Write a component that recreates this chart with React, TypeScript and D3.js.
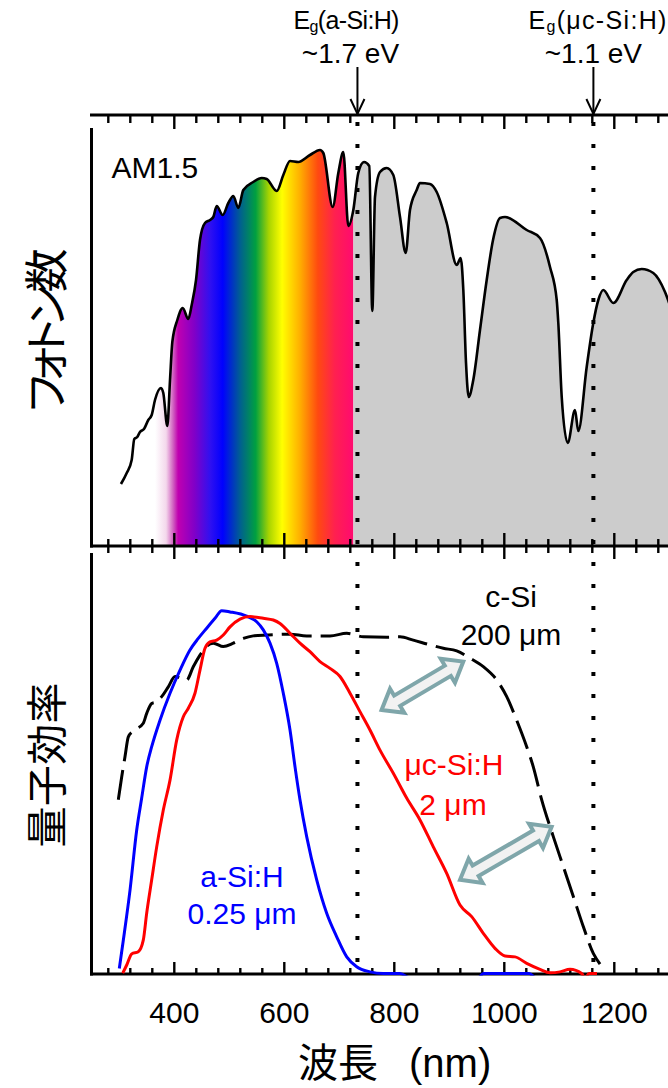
import React from 'react';
import * as d3 from 'd3';

const W = 668;
const H = 1088;

// AM1.5 photon spectrum (arbitrary units)
const am15Wavelength = [303,313.5,322.5,327.3,332.7,337.6,344.9,352.7,358.9,364.9,375.8,380,387.3,392.2,396.4,405.5,415.3,425.5,431.6,439.5,446.7,455.8,464.9,470.9,477.1,488,498.2,507.3,516.4,525.5,543.6,558.9,568,586.2,598.2,610.4,625.5,646.7,664.9,670.9,688,698.2,707.3,716.4,725.5,734.5,744.9,754.5,760,764.9,774,786.2,798.2,810.4,820.7,828.5,840.7,846.7,864.9,877.1,895.3,913.5,920.7,925.5,930.4,935.3,943.6,955.8,968,979.5,992.2,1001.3,1040.7,1064.9,1083.1,1095.3,1098.2,1104.4,1115.3,1128.5,1134.5,1149.8,1161.8,1170.9,1180,1198.2,1222.5,1234.5,1249.8,1270.9,1292.2,1301];
const am15Photons = [0.62,0.73,0.86,1.07,1.09,1.14,1.17,1.26,1.31,1.46,1.58,1.53,1.20,1.66,2.04,2.26,2.38,2.27,2.41,2.66,3.06,3.23,3.26,3.29,3.40,3.31,3.43,3.50,3.38,3.56,3.64,3.68,3.67,3.55,3.71,3.85,3.84,3.91,3.96,3.93,3.39,3.73,3.94,3.20,3.36,3.73,3.84,3.80,2.35,3.49,3.74,3.78,3.71,3.29,2.93,3.36,3.56,3.63,3.62,3.54,3.23,2.81,2.88,2.56,1.83,1.49,1.66,2.16,2.66,3.06,3.28,3.29,3.16,3.08,2.79,2.46,2.23,1.49,1.03,1.36,1.15,1.79,2.23,2.46,2.56,2.43,2.66,2.74,2.77,2.73,2.54,2.41];

// Quantum efficiency: a-Si:H 0.25 um
const aSiWavelength = [300,307.3,319.5,331.6,340.7,349.8,358.9,374,392.2,410.4,428.5,443.6,458.9,474,486.2,501.3,531.6,549.8,561.8,574,586.2,598.2,610.4,619.5,628.5,640.7,658.9,677.1,695.3,713.5,731.6,755.8,780,810,830,870,930,952,962,1045,1058,1080];
const aSiQE = [0.013,0.079,0.196,0.336,0.411,0.484,0.531,0.593,0.656,0.710,0.757,0.784,0.808,0.831,0.849,0.846,0.836,0.823,0.804,0.773,0.726,0.656,0.570,0.484,0.407,0.321,0.220,0.142,0.087,0.040,0.017,0.005,0.001,0.001,-0.01,-0.012,-0.012,-0.01,0.001,0.001,-0.01,-0.012];

// Quantum efficiency: uc-Si:H 2 um
const mcSiWavelength = [306.2,313.5,322.5,334.5,343.6,349.8,358.9,368,380,392.2,404.4,416.4,425.5,437.6,446.7,455.8,464.9,477.1,489.1,501.3,519.5,537.6,561.8,580,592.2,610.4,628.5,646.7,664.9,683.1,701.3,719.5,737.6,755.8,774,798.2,822.5,846.7,870.9,895.3,919.5,940.7,961.8,983.1,1001.3,1019.5,1040.7,1064.9,1083.1,1101.3,1119.5,1140.7,1147,1154,1168.5];
const mcSiQE = [0.002,0.021,0.047,0.052,0.079,0.142,0.220,0.297,0.383,0.453,0.547,0.601,0.621,0.656,0.710,0.761,0.776,0.780,0.792,0.811,0.829,0.835,0.831,0.827,0.819,0.796,0.773,0.753,0.730,0.714,0.695,0.656,0.613,0.570,0.523,0.469,0.411,0.360,0.297,0.235,0.161,0.134,0.095,0.060,0.042,0.040,0.025,0.011,0.003,0.005,0.011,0.001,-0.01,0.001,0.001];

// Quantum efficiency: c-Si 200 um
const cSiWavelength = [298.2,304.4,310.4,316.4,325.5,343.6,349.8,358.9,368,377.1,389.1,401.3,422.5,434.5,446.7,458.9,470.9,489.1,507.3,525.5,543.6,568,610.4,640.7,683.1,713.5,743.6,786.2,810.4,834.5,864.9,889.1,913.5,937.6,961.8,986.2,1004.4,1022.5,1040.7,1052.7,1068,1089.1,1107.3,1125.5,1143.6,1161.8,1174];
const cSiQE = [0.407,0.461,0.508,0.554,0.568,0.586,0.609,0.632,0.636,0.648,0.671,0.695,0.687,0.718,0.745,0.766,0.773,0.765,0.773,0.784,0.790,0.792,0.794,0.790,0.790,0.796,0.788,0.787,0.788,0.780,0.769,0.761,0.755,0.738,0.718,0.687,0.648,0.593,0.531,0.484,0.407,0.321,0.251,0.181,0.111,0.048,0.023];

// axis ticks
const xTickValues = d3.range(280, 1300, 40);
const xTickLabels = [400, 600, 800, 1000, 1200];

// band gaps (wavelength where drawn), labels
const bandgapWavelength = [733, 1162];
const bandgapMaterial = ['a-Si:H', 'μc-Si:H'];
const bandgapEnergy = ['~1.7 eV', '~1.1 eV'];

// visible spectrum colours
const spectrumEnd = 725.6;
const spectrumStopWavelength = [365, 385, 398, 407, 437, 465, 488, 520, 548, 572, 596, 628, 661, 692, 725.6];
const spectrumStopColor = ['#ffffff', '#f4d8ec', '#d060c0', '#c000b0', '#8000c8', '#3010f0', '#0000ff', '#006090', '#00a040', '#a8d400', '#ffff00', '#ffb000', '#ff4a10', '#ff2050', '#ff0a70'];

// double arrows marking the absorption gap (wavelength, QE)
const gapArrowFrom = [[777, 0.617], [919.5, 0.22]];
const gapArrowTo = [[925.5, 0.73], [1086, 0.344]];

const LATIN = "'Liberation Sans', Arial, Helvetica, sans-serif";
const CJK = "'Noto Sans CJK JP', 'Noto Sans CJK SC', sans-serif";

function blockArrow(p1: number[], p2: number[], s: number, h: number, hl: number) {
  const dx = p2[0] - p1[0];
  const dy = p2[1] - p1[1];
  const L = Math.hypot(dx, dy);
  const ux = dx / L, uy = dy / L;
  const nx = -uy, ny = ux;
  const a = [p1[0] + ux * hl, p1[1] + uy * hl];
  const b = [p2[0] - ux * hl, p2[1] - uy * hl];
  const pts = [
    p1,
    [a[0] + nx * h, a[1] + ny * h],
    [a[0] + nx * s, a[1] + ny * s],
    [b[0] + nx * s, b[1] + ny * s],
    [b[0] + nx * h, b[1] + ny * h],
    p2,
    [b[0] - nx * h, b[1] - ny * h],
    [b[0] - nx * s, b[1] - ny * s],
    [a[0] - nx * s, a[1] - ny * s],
    [a[0] - nx * h, a[1] - ny * h],
  ];
  return pts.map((p) => p[0].toFixed(1) + ',' + p[1].toFixed(1)).join(' ');
}

export default function App() {
  React.useEffect(() => {
    document.body.style.margin = '0';
    document.body.style.overflow = 'hidden';
  }, []);

  const x = d3.scaleLinear().domain([250, 1300]).range([91.8, 669.3]);
  const yTop = d3.scaleLinear().domain([0, 4.31]).range([546, 115]);
  const yBot = d3.scaleLinear().domain([0, 1]).range([974, 546]);

  const am15 = d3.zip(am15Wavelength, am15Photons) as [number, number][];
  const aSi = d3.zip(aSiWavelength, aSiQE) as [number, number][];
  const mcSi = d3.zip(mcSiWavelength, mcSiQE) as [number, number][];
  const cSi = d3.zip(cSiWavelength, cSiQE) as [number, number][];

  const areaTop = d3
    .area<[number, number]>()
    .x((d) => x(d[0]))
    .y0(yTop(0))
    .y1((d) => yTop(d[1]))
    .curve(d3.curveMonotoneX);
  const lineTop = d3
    .line<[number, number]>()
    .x((d) => x(d[0]))
    .y((d) => yTop(d[1]))
    .curve(d3.curveMonotoneX);
  const lineBot = d3
    .line<[number, number]>()
    .x((d) => x(d[0]))
    .y((d) => yBot(d[1]))
    .curve(d3.curveMonotoneX);

  const gx1 = x(250);
  const gx2 = x(spectrumEnd);
  const xSplit = x(spectrumEnd);

  const yTopAxis = 115;
  const ySep = 546;
  const yBottom = 974;
  const xLeft = 91.5;

  return (
    <svg
      width={W}
      height={H}
      viewBox={`0 0 ${W} ${H}`}
      style={{ position: 'absolute', left: 0, top: 0, display: 'block', background: '#fff' }}
      xmlns="http://www.w3.org/2000/svg"
    >
      <defs>
        <linearGradient id="spectrum" gradientUnits="userSpaceOnUse" x1={gx1} y1={0} x2={gx2} y2={0}>
          {spectrumStopWavelength.map((wl, i) => (
            <stop key={i} offset={(x(wl) - gx1) / (gx2 - gx1)} stopColor={spectrumStopColor[i]} />
          ))}
        </linearGradient>
        <clipPath id="clipVisible">
          <rect x={0} y={0} width={xSplit} height={ySep} />
        </clipPath>
        <clipPath id="clipIR">
          <rect x={xSplit} y={0} width={W - xSplit} height={ySep} />
        </clipPath>
        <clipPath id="clipBot">
          <rect x={xLeft} y={ySep} width={W} height={yBottom + 1.5 - ySep} />
        </clipPath>
      </defs>

      {/* ===== top panel: AM1.5 ===== */}
      <path d={areaTop(am15) || ''} fill="url(#spectrum)" clipPath="url(#clipVisible)" />
      <path d={areaTop(am15) || ''} fill="#cccccc" clipPath="url(#clipIR)" />
      <path d={lineTop(am15) || ''} fill="none" stroke="#000" strokeWidth={2.6} strokeLinejoin="round" />

      {/* top axis */}
      <line x1={90} x2={W} y1={yTopAxis} y2={yTopAxis} stroke="#000" strokeWidth={3} />
      {xTickValues.map((t) => {
        const major = t % 200 === 0;
        return (
          <line key={'tt' + t} x1={x(t)} x2={x(t)} y1={yTopAxis} y2={yTopAxis + (major ? 14 : 8)} stroke="#000" strokeWidth={2.4} />
        );
      })}
      {/* left axis of top panel */}
      <line x1={xLeft} x2={xLeft} y1={128} y2={ySep + 1.5} stroke="#000" strokeWidth={3} />
      {/* separator axis */}
      <line x1={90} x2={W} y1={ySep} y2={ySep} stroke="#000" strokeWidth={3} />
      {xTickValues.map((t) => {
        const major = t % 200 === 0;
        const l = major ? 13 : 7;
        return <line key={'ts' + t} x1={x(t)} x2={x(t)} y1={ySep - l} y2={ySep + l} stroke="#000" strokeWidth={2.4} />;
      })}

      <text x={111.5} y={178} fontFamily={LATIN} fontSize={30} fill="#000">AM1.5</text>

      {/* ===== bottom panel: QE ===== */}
      <line x1={xLeft} x2={xLeft} y1={553} y2={yBottom + 1.5} stroke="#000" strokeWidth={3} />
      <line x1={90} x2={W} y1={yBottom} y2={yBottom} stroke="#000" strokeWidth={3} />
      {xTickValues.map((t) => {
        const major = t % 200 === 0;
        return <line key={'tb' + t} x1={x(t)} x2={x(t)} y1={yBottom - (major ? 12 : 6)} y2={yBottom} stroke="#000" strokeWidth={2.4} />;
      })}
      {xTickLabels.map((t) => (
        <text key={'lb' + t} x={x(t)} y={1023} textAnchor="middle" fontFamily={LATIN} fontSize={30} fill="#000">
          {t}
        </text>
      ))}

      <g clipPath="url(#clipBot)">
        <path d={lineBot(cSi) || ''} fill="none" stroke="#000" strokeWidth={3} strokeDasharray="30,9" />
        <path d={lineBot(aSi) || ''} fill="none" stroke="#0000ff" strokeWidth={3} strokeLinejoin="round" />
        <path d={lineBot(mcSi) || ''} fill="none" stroke="#ff0000" strokeWidth={3} strokeLinejoin="round" />
      </g>

      {/* dotted band-gap lines */}
      {bandgapWavelength.map((wl, i) => (
        <line key={'dl' + i} x1={x(wl)} x2={x(wl)} y1={122} y2={976} stroke="#000" strokeWidth={4} strokeDasharray="4,18" />
      ))}

      {/* band gap labels and arrows */}
      {bandgapWavelength.map((wl, i) => {
        const xa = x(wl);
        const cx = i === 0 ? xa - 11 : xa + 4;
        return (
          <g key={'bg' + i} fontFamily={LATIN} fill="#000">
            <text x={cx} y={29} textAnchor="middle" fontSize={25} textLength={i === 0 ? 106 : 138} lengthAdjust="spacing">
              E<tspan fontSize={16} dy={3}>g</tspan>
              <tspan dy={-3}>({bandgapMaterial[i]})</tspan>
            </text>
            <text x={i === 0 ? xa - 7 : xa} y={63} textAnchor="middle" fontSize={28}>
              {bandgapEnergy[i]}
            </text>
            <line x1={xa} x2={xa} y1={67} y2={114} stroke="#000" strokeWidth={2} />
            <polyline points={`${xa - 7},99 ${xa},114 ${xa + 7},99`} fill="none" stroke="#000" strokeWidth={2} />
          </g>
        );
      })}

      {/* gap arrows */}
      {gapArrowFrom.map((f, i) => {
        const t = gapArrowTo[i];
        const p1 = [x(f[0]), yBot(f[1])];
        const p2 = [x(t[0]), yBot(t[1])];
        return (
          <polygon key={'ga' + i} points={blockArrow(p1, p2, 6, 14, 18)} fill="#f2f2f2" stroke="#7fa6aa" strokeWidth={4} strokeLinejoin="miter" />
        );
      })}

      {/* annotations */}
      <g fontFamily={LATIN} fontSize={30} textAnchor="middle">
        <text x={511} y={607} fill="#000">c-Si</text>
        <text x={511} y={645} fill="#000">200 μm</text>
        <text x={454} y={775} fill="#ff0000">μc-Si:H</text>
        <text x={453} y={815} fill="#ff0000">2 μm</text>
        <text x={242} y={887} fill="#0000ff">a-Si:H</text>
        <text x={242} y={924} fill="#0000ff">0.25 μm</text>
      </g>

      {/* axis titles */}
      <text
        transform="translate(44,330) rotate(-90)"
        textAnchor="middle"
        dominantBaseline="central"
        fontFamily={CJK}
        fontSize={44}
        textLength={163}
        lengthAdjust="spacing"
        style={{ fontFeatureSettings: '"palt"' }}
        fill="#000"
      >
        フォトン数
      </text>
      <text
        transform="translate(44,765) rotate(-90)"
        textAnchor="middle"
        dominantBaseline="central"
        fontFamily={CJK}
        fontSize={41}
        textLength={165}
        lengthAdjust="spacing"
        fill="#000"
      >
        量子効率
      </text>
      <text y={1077} fontSize={40} fill="#000">
        <tspan x={298} fontFamily={CJK}>波長</tspan>
        <tspan x={409} fontFamily={LATIN}>(nm)</tspan>
      </text>
    </svg>
  );
}
